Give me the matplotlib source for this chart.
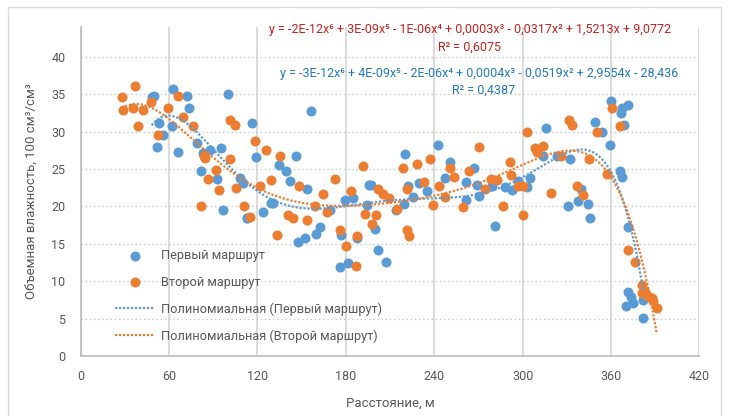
import matplotlib.pyplot as plt
import numpy as np
from matplotlib.patches import Rectangle

plt.rcParams['font.family'] = ['Roboto', 'DejaVu Sans']

# Первый маршрут (blue)
blue_x = np.array([48.2, 49.8, 51.6, 53.4, 56.1, 61.8, 62.9, 65.8, 71.9, 73.7, 78.7, 81.4, 82.8,
                   87.8, 92.3, 95.2, 96.4, 100.2, 108.1, 110.4, 112.6, 113.1, 116.0, 118.8, 124.0,
                   129.0, 130.7, 134.8, 139.3, 142.1, 145.9, 147.7, 152.2, 153.4, 156.1, 159.5,
                   162.4, 169.2, 176.0, 176.7, 179.4, 181.6, 185.0, 187.7, 194.1, 195.9, 197.2,
                   199.7, 202.0, 207.2, 213.8, 219.4, 220.1, 222.0, 225.7, 229.8, 235.3, 242.3,
                   247.3, 250.7, 261.5, 261.5, 267.0, 269.2, 270.5, 279.0, 281.2, 288.0, 292.5,
                   297.0, 303.1, 305.0, 314.0, 315.8, 323.1, 330.5, 332.1, 337.5, 339.6, 344.5,
                   345.7, 348.9, 354.0, 359.3, 360.0, 366.0, 366.5, 367.2, 367.6, 369.0, 370.1,
                   371.3, 371.5, 371.7, 373.5, 375.1, 381.4, 381.9])
blue_y = np.array([34.7, 34.8, 27.9, 31.1, 29.5, 30.7, 35.7, 27.3, 34.8, 33.2, 28.5, 24.8, 27.1,
                   27.6, 23.7, 27.8, 19.5, 35.0, 23.8, 23.2, 18.4, 18.5, 31.1, 26.6, 19.2,
                   20.4, 20.5, 25.6, 24.8, 23.4, 26.7, 15.2, 15.8, 22.3, 32.7, 16.3,
                   17.3, 19.5, 11.9, 16.2, 20.9, 12.4, 21.1, 15.8, 20.2, 22.9, 22.9,
                   17.0, 14.2, 12.6, 19.5, 20.3, 27.0, 22.8, 21.2, 23.2, 22.1, 28.2,
                   23.8, 25.9, 23.3, 20.8, 25.1, 22.9, 21.4, 22.7, 17.4, 22.6, 22.2,
                   23.4, 22.6, 23.8, 26.7, 30.5, 26.7, 20.0, 26.4, 20.7, 22.4, 20.3,
                   18.5, 31.3, 29.9, 28.2, 34.1, 24.8, 32.5, 33.2, 23.9, 30.9, 6.7,
                   33.6, 17.2, 8.6, 7.9, 7.1, 7.5, 5.1])

# Второй маршрут (orange)
orange_x = np.array([27.8, 28.9, 35.3, 36.9, 39.1, 42.5, 47.5, 52.7, 59.5, 66.2, 69.6, 76.4, 81.4,
                     83.7, 84.5, 86.6, 91.6, 94.1, 101.3, 101.3, 104.7, 105.2, 111.0, 114.9, 118.3,
                     121.7, 125.7, 128.9, 133.0, 135.3, 140.9, 144.3, 148.2, 153.8, 159.0, 164.7,
                     167.0, 172.6, 176.0, 180.1, 183.5, 186.8, 187.3, 191.8, 193.0, 197.5, 200.4,
                     202.0, 205.0, 209.5, 214.9, 218.5, 221.7, 221.3, 222.8, 228.1, 233.0, 237.0,
                     238.9, 243.4, 247.3, 250.7, 253.4, 259.7, 263.8, 270.6, 274.4, 278.3, 282.8,
                     286.4, 291.4, 291.9, 297.0, 300.4, 300.4, 303.1, 308.3, 309.5, 313.6, 319.0,
                     325.8, 331.6, 333.2, 336.6, 340.7, 345.0, 350.2, 357.0, 360.4, 366.0, 371.5,
                     376.5, 381.0, 381.0, 383.0, 385.3, 387.6, 388.7, 391.0])
orange_y = np.array([34.6, 32.9, 33.2, 36.1, 30.8, 32.9, 34.0, 29.6, 33.2, 34.8, 32.0, 30.8, 20.0,
                     26.8, 26.5, 23.7, 24.9, 22.2, 26.4, 31.6, 30.9, 22.5, 20.1, 18.6, 28.8,
                     22.8, 27.6, 23.6, 16.2, 26.8, 18.9, 18.4, 22.8, 18.2, 20.0, 21.6,
                     19.2, 23.7, 16.8, 14.7, 22.1, 12.0, 16.0, 25.4, 19.0, 17.7, 18.8,
                     22.4, 21.6, 21.1, 19.6, 25.1, 22.3, 16.9, 16.1, 25.7, 23.3, 26.4,
                     20.2, 22.8, 21.3, 25.1, 24.0, 19.9, 24.8, 27.9, 22.3, 23.7, 23.6,
                     20.1, 25.9, 24.2, 22.8, 22.8, 18.8, 29.9, 27.8, 27.3, 28.1, 21.8,
                     26.7, 31.5, 30.9, 22.8, 21.5, 26.4, 29.9, 24.4, 33.2, 30.8, 14.2,
                     12.6, 9.5, 8.4, 8.6, 8.0, 7.7, 7.3, 6.4])

blue_eq = 'y = -3E-12x⁶ + 4E-09x⁵ - 2E-06x⁴ + 0,0004x³ - 0,0519x² + 2,9554x - 28,436'
blue_r2 = 'R² = 0,4387'
orange_eq = 'y = -2E-12x⁶ + 3E-09x⁵ - 1E-06x⁴ + 0,0003x³ - 0,0317x² + 1,5213x + 9,0772'
orange_r2 = 'R² = 0,6075'

BLUE = '#5B9BD5'
ORANGE = '#ED7D31'
TXT = '#595959'

fig = plt.figure(figsize=(7.29, 4.16), dpi=100)
# outer chart border
fig.patches.append(Rectangle((8 / 729, -0.05), 713 / 729, 1.05 - 7 / 416, transform=fig.transFigure,
                             fill=False, edgecolor='#D9D9D9', lw=1))
ax = fig.add_axes([0.1107, 0.1442, 0.8488, 0.7909])

s1 = ax.scatter(blue_x, blue_y, s=52, color=BLUE, linewidths=0, zorder=3)
s2 = ax.scatter(orange_x, orange_y, s=52, color=ORANGE, linewidths=0, zorder=4)

# 6th order polynomial trendlines
handles = [s1, s2]
for x, y, c in [(blue_x, blue_y, BLUE), (orange_x, orange_y, ORANGE)]:
    p = np.polynomial.Polynomial.fit(x, y, 6)
    xx = np.linspace(x.min(), x.max(), 400)
    ln, = ax.plot(xx, p(xx), color=c, lw=1.6, linestyle=(0, (1, 0.8)), zorder=5)
    handles.append(ln)

ax.set_xlim(0, 420)
ax.set_ylim(0, 44)
ax.set_xticks(range(0, 421, 60))
ax.set_yticks(range(0, 41, 5))
ax.grid(axis='x', color='#D9D9D9', lw=1.3, linestyle='-')
ax.grid(axis='y', color='#C8C8C8', lw=1, linestyle=(0, (1, 2)))
ax.set_axisbelow(True)
for sp in ['top', 'right']:
    ax.spines[sp].set_visible(False)
for sp in ['left', 'bottom']:
    ax.spines[sp].set_color('#BFBFBF')
    ax.spines[sp].set_linewidth(1.3)
ax.tick_params(length=0, labelsize=9, colors=TXT)
ax.tick_params(axis='y', pad=11)
ax.tick_params(axis='x', pad=10)

ax.set_xlabel('Расстояние, м', fontsize=9.5, color=TXT)
ax.set_ylabel('Объемная влажность, 100 см³/см³', fontsize=9.5, color=TXT)
ax.xaxis.set_label_coords(0.5, -0.125)
ax.yaxis.set_label_coords(-0.069, 0.5)

ax.legend(handles, ['Первый маршрут', 'Второй маршрут',
                    'Полиномиальная (Первый маршрут)', 'Полиномиальная (Второй маршрут)'],
          loc='upper left', bbox_to_anchor=(0.0554, 0.324), frameon=False, fontsize=9.2,
          labelcolor=TXT, borderpad=0, borderaxespad=0, handlelength=3.1, handletextpad=0.52,
          labelspacing=1.05, scatterpoints=1)

fig.text(470 / 729, 1 - 30 / 416, orange_eq, color='#C9211E', fontsize=9, ha='center', va='center')
fig.text(469 / 729, 1 - 47 / 416, orange_r2, color='#C9211E', fontsize=9, ha='center', va='center')
fig.text(479 / 729, 1 - 73 / 416, blue_eq, color='#2479C5', fontsize=9, ha='center', va='center')
fig.text(484 / 729, 1 - 90 / 416, blue_r2, color='#2479C5', fontsize=9, ha='center', va='center')

fig.savefig('out.png', dpi=100)
